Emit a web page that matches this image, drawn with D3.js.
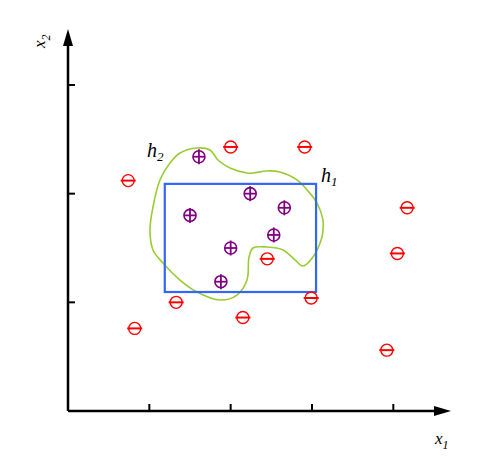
<!DOCTYPE html>
<html><head><meta charset="utf-8">
<script src="https://cdn.jsdelivr.net/npm/d3@7"></script>
<style>body{margin:0;background:#fff}</style>
</head><body>
<svg id="c" width="496" height="464"></svg>
<script>
// Data (axis units)
const xTicks = [1, 2, 3, 4];
const yTicks = [1, 2, 3];
const negX = [0.74, 2.00, 2.91, 4.17, 4.05, 3.92, 2.45, 2.99, 1.33, 2.15, 0.82];
const negY = [2.12, 2.43, 2.43, 1.87, 1.45, 0.56, 1.40, 1.04, 1.00, 0.86, 0.76];
const posX = [1.61, 2.24, 2.66, 1.50, 2.53, 2.00, 1.88];
const posY = [2.34, 2.00, 1.87, 1.80, 1.62, 1.50, 1.19];
const rectX = [1.19, 3.05];
const rectY = [1.095, 2.09];
const curveX = [1.008,1.045,1.131,1.254,1.377,1.586,1.746,1.844,1.992,2.201,2.275,2.447,2.607,2.816,2.939,3.062,3.135,3.135,3.123,3.012,2.889,2.791,2.644,2.447,2.275,2.226,2.201,2.078,1.869,1.586,1.377,1.168,1.045];
const curveY = [1.666,1.877,2.126,2.282,2.374,2.420,2.402,2.310,2.236,2.190,2.190,2.209,2.199,2.126,2.034,1.914,1.758,1.666,1.601,1.417,1.334,1.390,1.482,1.509,1.500,1.417,1.205,1.067,1.021,1.095,1.205,1.362,1.482];

const svg = d3.select('#c');
const x = d3.scaleLinear().domain([0, 1]).range([68, 149.33]);
const y = d3.scaleLinear().domain([0, 1]).range([411, 302.33]);

// Axes
const axX0 = 68, axY0 = 411;
svg.append('line').attr('x1', axX0).attr('y1', axY0).attr('x2', 438).attr('y2', axY0)
  .attr('stroke', '#000').attr('stroke-width', 2.5);
svg.append('path').attr('d', `M451,${axY0} L434,${axY0-5} L434,${axY0+5} Z`).attr('fill', '#000');
svg.append('line').attr('x1', axX0).attr('y1', axY0).attr('x2', axX0).attr('y2', 44)
  .attr('stroke', '#000').attr('stroke-width', 2.5);
svg.append('path').attr('d', `M${axX0},29 L${axX0-5},46 L${axX0+5},46 Z`).attr('fill', '#000');

svg.selectAll('.xt').data(xTicks).enter().append('line')
  .attr('x1', d => x(d)).attr('x2', d => x(d)).attr('y1', axY0).attr('y2', axY0 - 7)
  .attr('stroke', '#000').attr('stroke-width', 2);
svg.selectAll('.yt').data(yTicks).enter().append('line')
  .attr('y1', d => y(d)).attr('y2', d => y(d)).attr('x1', axX0).attr('x2', axX0 + 7)
  .attr('stroke', '#000').attr('stroke-width', 2);

// Labels
const font = "'Liberation Serif','DejaVu Serif',serif";
const lx = svg.append('text').attr('x', 435).attr('y', 444).attr('font-family', font)
  .attr('font-style', 'italic').attr('font-size', 17);
lx.append('tspan').text('x');
lx.append('tspan').attr('dy', 5).attr('font-size', 12).text('1');
const ly = svg.append('text').attr('transform', 'translate(45,48) rotate(-90)').attr('font-family', font)
  .attr('font-style', 'italic').attr('font-size', 17);
ly.append('tspan').text('x');
ly.append('tspan').attr('dy', 5).attr('font-size', 12).text('2');

const h2 = svg.append('text').attr('x', 147).attr('y', 157).attr('font-family', font)
  .attr('font-style', 'italic').attr('font-size', 20);
h2.append('tspan').text('h');
h2.append('tspan').attr('dy', 4).attr('font-size', 13).text('2');
const h1 = svg.append('text').attr('x', 321).attr('y', 182).attr('font-family', font)
  .attr('font-style', 'italic').attr('font-size', 20);
h1.append('tspan').text('h');
h1.append('tspan').attr('dy', 4).attr('font-size', 13).text('1');

// Green curve
const pts = curveX.map((d, i) => [x(d), y(curveY[i])]);
svg.append('path').attr('d', d3.line().curve(d3.curveCatmullRomClosed.alpha(0.5))(pts))
  .attr('fill', 'none').attr('stroke', '#99cc33').attr('stroke-width', 1.6);

// Rectangle
svg.append('rect').attr('x', x(rectX[0])).attr('y', y(rectY[1]))
  .attr('width', x(rectX[1]) - x(rectX[0])).attr('height', y(rectY[0]) - y(rectY[1]))
  .attr('fill', 'none').attr('stroke', '#3366ff').attr('stroke-width', 2.2);

// Negative points
const neg = svg.selectAll('.neg').data(negX.map((d, i) => [d, negY[i]])).enter().append('g')
  .attr('transform', d => `translate(${x(d[0])},${y(d[1])})`);
neg.append('circle').attr('r', 6).attr('fill', 'none').attr('stroke', '#ff0000').attr('stroke-width', 1.4);
neg.append('line').attr('x1', -7.5).attr('x2', 7.5).attr('stroke', '#ff0000').attr('stroke-width', 2);

// Positive points
const pos = svg.selectAll('.pos').data(posX.map((d, i) => [d, posY[i]])).enter().append('g')
  .attr('transform', d => `translate(${x(d[0])},${y(d[1])})`);
pos.append('circle').attr('r', 6).attr('fill', 'none').attr('stroke', '#800080').attr('stroke-width', 1.6);
pos.append('line').attr('x1', -6).attr('x2', 6).attr('stroke', '#800080').attr('stroke-width', 1.8);
pos.append('line').attr('y1', -7.5).attr('y2', 7.5).attr('stroke', '#800080').attr('stroke-width', 1.8);
</script>
</body></html>
